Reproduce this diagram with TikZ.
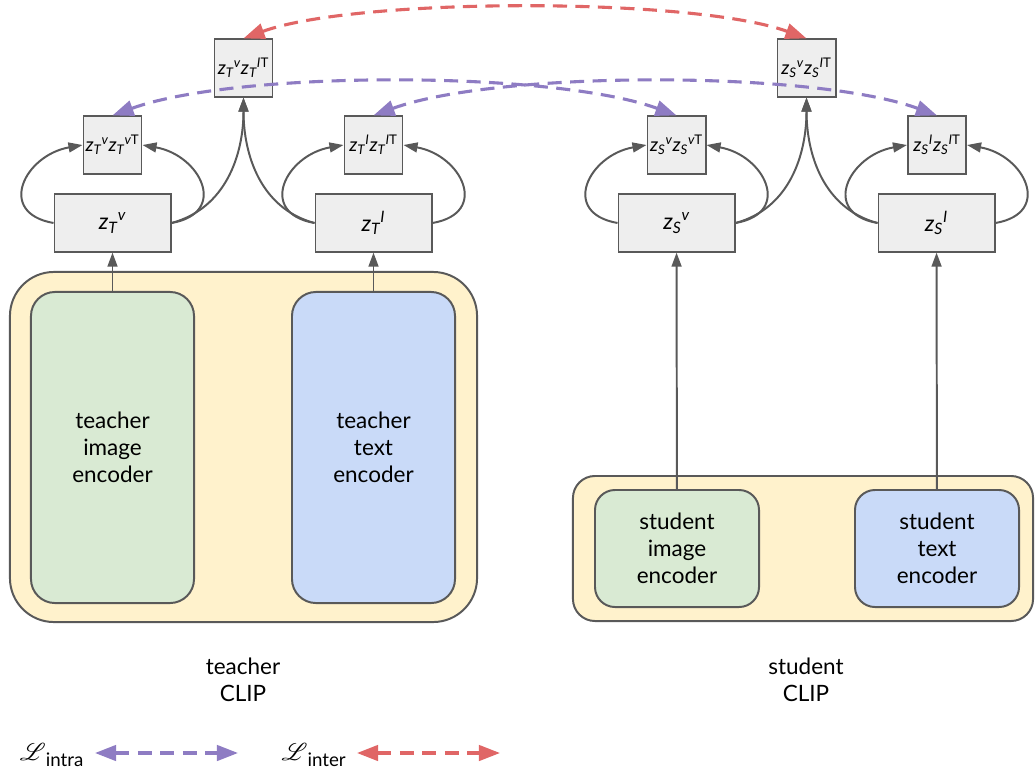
\documentclass[tikz,border=0pt]{standalone}
\usepackage{fontspec}
\usepackage{amsmath}
\usepackage{mathrsfs}
\setmainfont{Lato}
\usetikzlibrary{arrows.meta}
\usepackage{xcolor}
\definecolor{linegray}{HTML}{595959}
\definecolor{boxgray}{HTML}{EEEEEE}
\definecolor{clipyellow}{HTML}{FFF2CC}
\definecolor{imggreen}{HTML}{D9EAD3}
\definecolor{txtblue}{HTML}{C9DAF8}
\definecolor{intrapurple}{HTML}{8E7CC3}
\definecolor{interred}{HTML}{E06666}

% z vectors: subscript, then superscript after it
\newcommand{\zvec}[2]{\textit{z}$_{\textit{#1}}{}^{#2}$}

\tikzset{
  zbox/.style={draw=linegray, fill=boxgray, line width=1.4pt, minimum width=2.9cm, minimum height=1.43cm, font=\fontsize{16}{18}\selectfont},
  simbox/.style={draw=linegray, fill=boxgray, line width=1.4pt, minimum width=1.45cm, minimum height=1.43cm, inner sep=0pt, font=\fontsize{13.5}{16}\selectfont},
  encbox/.style={draw=linegray, line width=1.4pt, align=center, font=\fontsize{16}{19}\selectfont},
  clipbox/.style={draw=linegray, fill=clipyellow, line width=1.4pt},
  conn/.style={draw=linegray, line width=1.4pt, -{Triangle[length=10pt,width=7pt]}},
  intra/.style={draw=intrapurple, line width=2.2pt, dash pattern=on 10pt off 6pt, {Triangle[length=15pt,width=11pt]}-{Triangle[length=15pt,width=11pt]}},
  inter/.style={draw=interred, line width=2.2pt, dash pattern=on 10pt off 6pt, {Triangle[length=15pt,width=11pt]}-{Triangle[length=15pt,width=11pt]}}
}

\begin{document}
\begin{tikzpicture}[x=0.025cm, y=0.025cm]

  % Canvas
  \useasboundingbox (0,0) rectangle (1036,-782);
  \fill[white] (0,0) rectangle (1036,-782);

  % Teacher CLIP
  \node[clipbox, rounded corners=1.1cm, minimum width=11.675cm, minimum height=8.75cm] (tclip) at (243.5,-447) {};
  \node[encbox, fill=imggreen, rounded corners=0.6cm, minimum width=4.075cm, minimum height=7.775cm] (timgenc) at (112.5,-447.5) {teacher\\image\\encoder};
  \node[encbox, fill=txtblue, rounded corners=0.6cm, minimum width=4.075cm, minimum height=7.775cm] (ttxtenc) at (373.5,-447.5) {teacher\\text\\encoder};

  % Student CLIP
  \node[clipbox, rounded corners=0.55cm, minimum width=11.5cm, minimum height=3.625cm] (sclip) at (803,-548.5) {};
  \node[encbox, fill=imggreen, rounded corners=0.5cm, minimum width=4.1cm, minimum height=2.925cm] (simgenc) at (677,-548.5) {student\\image\\encoder};
  \node[encbox, fill=txtblue, rounded corners=0.5cm, minimum width=4.1cm, minimum height=2.925cm] (stxtenc) at (937,-548.5) {student\\text\\encoder};

  % Captions
  \node[align=center, font=\fontsize{16}{19}\selectfont] (tcap) at (243,-680) {teacher\\CLIP};
  \node[align=center, font=\fontsize{16}{19}\selectfont] (scap) at (806,-680) {student\\CLIP};

  % Embeddings
  \node[zbox] (ztv) at (112.5,-223) {\zvec{T}{\textit{v}}};
  \node[zbox] (ztl) at (373.5,-223) {\zvec{T}{\textit{I}}};
  \node[zbox] (zsv) at (676.5,-223) {\zvec{S}{\textit{v}}};
  \node[zbox] (zsl) at (936.5,-223) {\zvec{S}{\textit{I}}};

  % Similarity matrices
  \node[simbox] (ztvv) at (112.5,-145) {\zvec{T}{\textit{v}}\zvec{T}{\textit{v}\mathrm{T}}};
  \node[simbox] (ztll) at (373.5,-145) {\zvec{T}{\textit{I}}\zvec{T}{\textit{I}\mathrm{T}}};
  \node[simbox] (ztvl) at (243.5,-68) {\zvec{T}{\textit{v}}\zvec{T}{\textit{I}\mathrm{T}}};
  \node[simbox] (zsvv) at (676.5,-145) {\zvec{S}{\textit{v}}\zvec{S}{\textit{v}\mathrm{T}}};
  \node[simbox] (zsll) at (937,-145) {\zvec{S}{\textit{I}}\zvec{S}{\textit{I}\mathrm{T}}};
  \node[simbox] (zsvl) at (806.5,-68) {\zvec{S}{\textit{v}}\zvec{S}{\textit{I}\mathrm{T}}};

  % Encoder outputs
  \draw[conn] (timgenc) -- (ztv);
  \draw[conn] (ttxtenc) -- (ztl);
  \draw[conn] (simgenc) -- (zsv);
  \draw[conn] (stxtenc) -- (zsl);

  % Teacher products
  \draw[conn] (ztv.west) to[out=170, in=190, looseness=1.8] (ztvv.west);
  \draw[conn] (ztv.east) to[out=10, in=-10, looseness=1.8] (ztvv.east);
  \draw[conn] (ztl.west) to[out=170, in=190, looseness=1.8] (ztll.west);
  \draw[conn] (ztl.east) to[out=10, in=-10, looseness=1.8] (ztll.east);
  \draw[conn] (ztv.east) to[out=15, in=-90] (ztvl.south);
  \draw[conn] (ztl.west) to[out=165, in=-90] (ztvl.south);

  % Student products
  \draw[conn] (zsv.west) to[out=170, in=190, looseness=1.8] (zsvv.west);
  \draw[conn] (zsv.east) to[out=10, in=-10, looseness=1.8] (zsvv.east);
  \draw[conn] (zsl.west) to[out=170, in=190, looseness=1.8] (zsll.west);
  \draw[conn] (zsl.east) to[out=10, in=-10, looseness=1.8] (zsll.east);
  \draw[conn] (zsv.east) to[out=15, in=-90] (zsvl.south);
  \draw[conn] (zsl.west) to[out=165, in=-90] (zsvl.south);

  % Distillation losses
  \draw[intra] (ztvv.north) to[out=20, in=160, looseness=0.6] (zsvv.north);
  \draw[intra] (ztll.north) to[out=20, in=160, looseness=0.6] (zsll.north);
  \draw[inter] (ztvl.north) to[out=20, in=160, looseness=0.55] (zsvl.north);

  % Legend
  \node[font=\fontsize{19}{21}\selectfont] (lintra) at (52,-755) {$\boldsymbol{\mathscr{L}}_{\text{intra}}$};
  \coordinate (intraA) at (95,-753);
  \coordinate (intraB) at (238,-753);
  \draw[intra] (intraA) -- (intraB);
  \node[font=\fontsize{19}{21}\selectfont] (linter) at (314,-755) {$\boldsymbol{\mathscr{L}}_{\text{inter}}$};
  \coordinate (interA) at (357,-753);
  \coordinate (interB) at (500,-753);
  \draw[inter] (interA) -- (interB);

\end{tikzpicture}
\end{document}
